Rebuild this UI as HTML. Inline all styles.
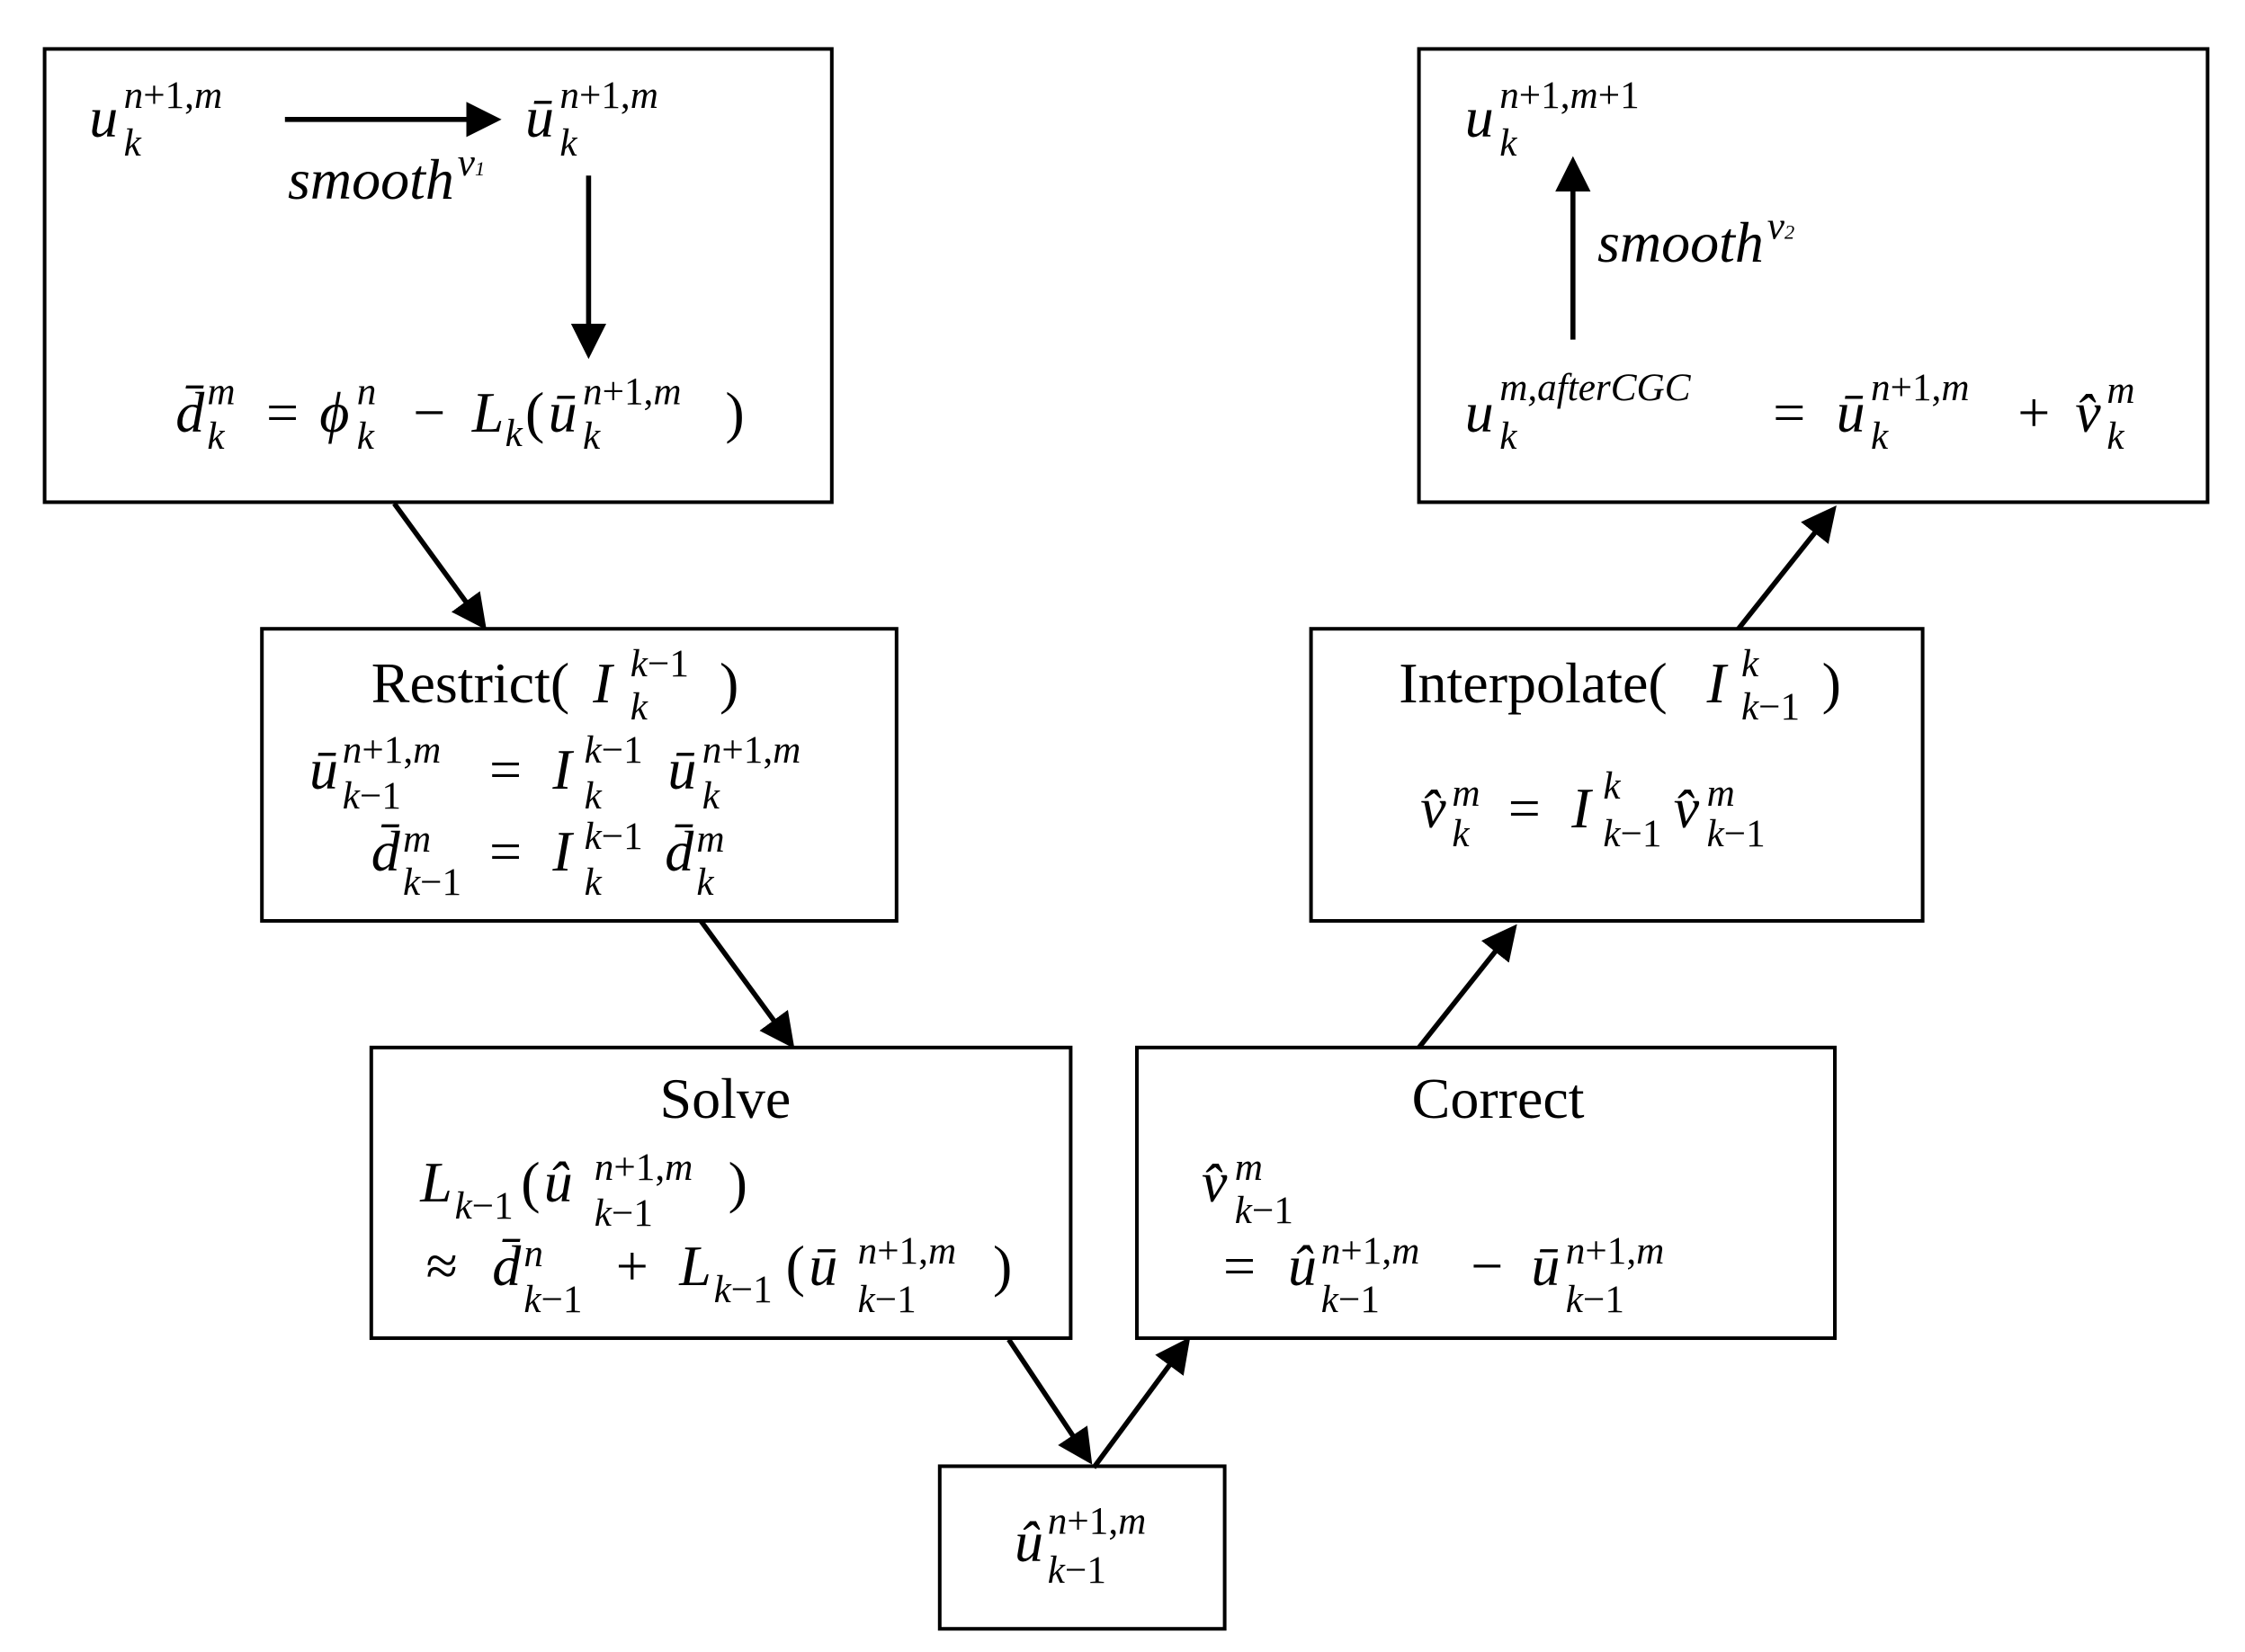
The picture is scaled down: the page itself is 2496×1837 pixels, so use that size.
<!DOCTYPE html>
<html><head><meta charset="utf-8"><style>
html,body{margin:0;padding:0;background:#fff}
svg{display:block}
text{font-family:"Liberation Serif",serif;fill:#000}
.m{font-size:40px;font-style:italic}
.r{font-size:40px;font-style:normal}
.s{font-size:27px;font-style:italic}
.sr{font-size:27px;font-style:normal}
</style></head><body>
<svg width="2496" height="1837" viewBox="0 0 1560 1148.1" xmlns="http://www.w3.org/2000/svg">
<defs><marker id="a" markerWidth="7" markerHeight="7" refX="6" refY="3.5" orient="auto" markerUnits="strokeWidth"><path d="M0,0 L7,3.5 L0,7 z" fill="#000"/></marker></defs>
<g fill="none" stroke="#000" stroke-width="2.5">
<rect x="31" y="34" width="547" height="315"/>
<rect x="986" y="34" width="548" height="315"/>
<rect x="182" y="437" width="441" height="203"/>
<rect x="911" y="437" width="425" height="203"/>
<rect x="258" y="728" width="486" height="202"/>
<rect x="790" y="728" width="485" height="202"/>
<rect x="653" y="1019" width="198" height="113"/>
</g>
<g stroke="#000" stroke-width="3.5" marker-end="url(#a)">
<line x1="198" y1="83" x2="345" y2="83"/>
<line x1="409" y1="122" x2="409" y2="246"/>
<line x1="1093" y1="236" x2="1093" y2="112"/>
<line x1="274" y1="350" x2="336" y2="435"/>
<line x1="487" y1="640" x2="550" y2="726"/>
<line x1="701" y1="931" x2="757" y2="1015"/>
<line x1="760" y1="1020" x2="825" y2="932"/>
<line x1="986" y1="728" x2="1052" y2="645"/>
<line x1="1208" y1="437" x2="1274" y2="354"/>
</g>
<!-- box1 -->
<text class="m" x="62" y="95">u</text><text class="s" x="86" y="75">n<tspan class="sr">+1,</tspan>m</text><text class="s" x="86" y="108">k</text>
<text class="m" x="200" y="138">smooth</text><text class="s" x="318" y="122" font-size="22">ν<tspan font-size="14">1</tspan></text>
<text class="m" x="365" y="95">ū</text><text class="s" x="389" y="75">n<tspan class="sr">+1,</tspan>m</text><text class="s" x="389" y="108">k</text>
<text class="m" x="122" y="300">d̄</text><text class="s" x="144" y="281">m</text><text class="s" x="144" y="312">k</text>
<text class="r" x="185" y="300">=</text><text class="m" x="222" y="300">ϕ</text><text class="s" x="248" y="281">n</text><text class="s" x="248" y="312">k</text>
<text class="r" x="287" y="300">−</text><text class="m" x="328" y="300">L</text><text class="s" x="351" y="310">k</text>
<text class="r" x="365" y="300">(</text><text class="m" x="381" y="300">ū</text><text class="s" x="405" y="281">n<tspan class="sr">+1,</tspan>m</text><text class="s" x="405" y="312">k</text><text class="r" x="504" y="300">)</text>
<!-- box2 -->
<text class="m" x="1018" y="95">u</text><text class="s" x="1042" y="75">n<tspan class="sr">+1,</tspan>m<tspan class="sr">+1</tspan></text><text class="s" x="1042" y="108">k</text>
<text class="m" x="1110" y="182">smooth</text><text class="s" x="1228" y="166" font-size="22">ν<tspan font-size="14">2</tspan></text>
<text class="m" x="1018" y="300">u</text><text class="s" x="1042" y="278">m,afterCGC</text><text class="s" x="1042" y="312">k</text>
<text class="r" x="1232" y="300">=</text><text class="m" x="1276" y="300">ū</text><text class="s" x="1300" y="278">n<tspan class="sr">+1,</tspan>m</text><text class="s" x="1300" y="312">k</text>
<text class="r" x="1402" y="300">+</text><text class="m" x="1442" y="300">v̂</text><text class="s" x="1464" y="280">m</text><text class="s" x="1464" y="312">k</text>
<!-- restrict -->
<text class="r" x="258" y="488">Restrict(</text><text class="m" x="412" y="488">I</text><text class="s" x="438" y="470">k<tspan class="sr">−1</tspan></text><text class="s" x="438" y="500">k</text><text class="r" x="500" y="488">)</text>
<text class="m" x="215" y="548">ū</text><text class="s" x="238" y="530">n<tspan class="sr">+1,</tspan>m</text><text class="s" x="238" y="562">k<tspan class="sr">−1</tspan></text>
<text class="r" x="340" y="548">=</text><text class="m" x="384" y="548">I</text><text class="s" x="406" y="530">k<tspan class="sr">−1</tspan></text><text class="s" x="406" y="562">k</text>
<text class="m" x="464" y="548">ū</text><text class="s" x="488" y="530">n<tspan class="sr">+1,</tspan>m</text><text class="s" x="488" y="562">k</text>
<text class="m" x="258" y="605">d̄</text><text class="s" x="280" y="592">m</text><text class="s" x="280" y="622">k<tspan class="sr">−1</tspan></text>
<text class="r" x="340" y="605">=</text><text class="m" x="384" y="605">I</text><text class="s" x="406" y="590">k<tspan class="sr">−1</tspan></text><text class="s" x="406" y="622">k</text>
<text class="m" x="462" y="605">d̄</text><text class="s" x="484" y="592">m</text><text class="s" x="484" y="622">k</text>
<!-- interpolate -->
<text class="r" x="972" y="488">Interpolate(</text><text class="m" x="1186" y="488">I</text><text class="s" x="1210" y="470">k</text><text class="s" x="1210" y="500">k<tspan class="sr">−1</tspan></text><text class="r" x="1266" y="488">)</text>
<text class="m" x="987" y="575">v̂</text><text class="s" x="1009" y="560">m</text><text class="s" x="1009" y="588">k</text>
<text class="r" x="1048" y="575">=</text><text class="m" x="1092" y="575">I</text><text class="s" x="1114" y="555">k</text><text class="s" x="1114" y="588">k<tspan class="sr">−1</tspan></text>
<text class="m" x="1163" y="575">v̂</text><text class="s" x="1186" y="560">m</text><text class="s" x="1186" y="588">k<tspan class="sr">−1</tspan></text>
<!-- solve -->
<text class="r" x="504" y="777" text-anchor="middle">Solve</text>
<text class="m" x="292" y="835">L</text><text class="s" x="316" y="847">k<tspan class="sr">−1</tspan></text>
<text class="r" x="362" y="835">(</text><text class="m" x="378" y="835">û</text><text class="s" x="413" y="820">n<tspan class="sr">+1,</tspan>m</text><text class="s" x="413" y="852">k<tspan class="sr">−1</tspan></text><text class="r" x="506" y="835">)</text>
<text class="r" x="296" y="893">≈</text><text class="m" x="342" y="893">d̄</text><text class="s" x="364" y="880">n</text><text class="s" x="364" y="912">k<tspan class="sr">−1</tspan></text>
<text class="r" x="428" y="893">+</text><text class="m" x="472" y="893">L</text><text class="s" x="496" y="905">k<tspan class="sr">−1</tspan></text>
<text class="r" x="546" y="893">(</text><text class="m" x="562" y="893">ū</text><text class="s" x="596" y="878">n<tspan class="sr">+1,</tspan>m</text><text class="s" x="596" y="912">k<tspan class="sr">−1</tspan></text><text class="r" x="690" y="893">)</text>
<!-- correct -->
<text class="r" x="1041" y="777" text-anchor="middle">Correct</text>
<text class="m" x="835" y="835">v̂</text><text class="s" x="858" y="820">m</text><text class="s" x="858" y="850">k<tspan class="sr">−1</tspan></text>
<text class="r" x="850" y="893">=</text><text class="m" x="895" y="893">û</text><text class="s" x="918" y="878">n<tspan class="sr">+1,</tspan>m</text><text class="s" x="918" y="912">k<tspan class="sr">−1</tspan></text>
<text class="r" x="1022" y="893">−</text><text class="m" x="1064" y="893">ū</text><text class="s" x="1088" y="878">n<tspan class="sr">+1,</tspan>m</text><text class="s" x="1088" y="912">k<tspan class="sr">−1</tspan></text>
<!-- bottom -->
<text class="m" x="705" y="1085">û</text><text class="s" x="728" y="1066">n<tspan class="sr">+1,</tspan>m</text><text class="s" x="728" y="1100">k<tspan class="sr">−1</tspan></text>
</svg>
</body></html>
